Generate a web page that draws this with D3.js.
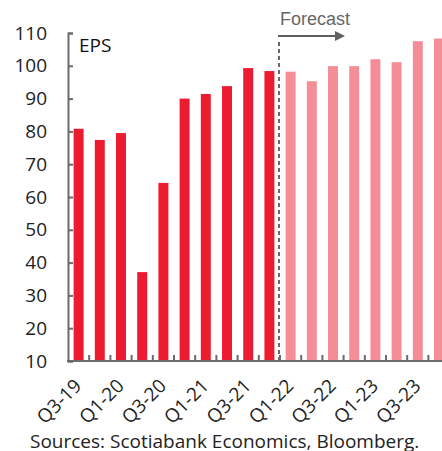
<!DOCTYPE html>
<html lang="en">
<head>
    <meta charset="utf-8">
    <title>EPS</title>
    <script type="text/javascript" src="https://cdn.jsdelivr.net/npm/d3@7"></script>
    <style type="text/css">
        body { margin: 0; background: #fff; }
    </style>
</head>
<body>
<script type="text/javascript">

var quarters = ["Q3-19","Q4-19","Q1-20","Q2-20","Q3-20","Q4-20","Q1-21","Q2-21","Q3-21","Q4-21",
                "Q1-22","Q2-22","Q3-22","Q4-22","Q1-23","Q2-23","Q3-23","Q4-23"]
var actual = [80.8, 77.4, 79.5, 37.1, 64.3, 90.0, 91.4, 93.8, 99.3, 98.4]
var forecast = [98.2, 95.3, 99.9, 99.9, 102.0, 101.1, 107.5, 108.3]
var yTicks = [10, 20, 30, 40, 50, 60, 70, 80, 90, 100, 110]

var w = 442
var h = 451
var font = "'Open Sans', sans-serif"

var svg = d3.select("body")
    .append("svg")
    .attr("width", w)
    .attr("height", h)
    .attr("font-family", font);

var x = d3.scaleBand()
    .domain(quarters)
    .range([68, 68 + 18 * 21.2])
    .paddingInner(0.53)
    .paddingOuter(0.265);

var y = d3.scaleLinear()
    .domain([10, 110])
    .range([361, 33]);

var bars = actual.map(function(v, i){ return {q: quarters[i], v: v, f: false}; })
    .concat(forecast.map(function(v, i){ return {q: quarters[actual.length + i], v: v, f: true}; }));

svg.selectAll("rect.bar")
    .data(bars)
    .enter()
    .append("rect")
    .attr("class", "bar")
    .attr("x", function(d){ return x(d.q); })
    .attr("y", function(d){ return y(d.v); })
    .attr("width", x.bandwidth())
    .attr("height", function(d){ return y(10) - y(d.v); })
    .attr("fill", function(d){ return d.f ? "#F58D97" : "#ED1B2F"; });

//y axis
var yAxis = svg.append("g")
    .attr("transform", "translate(68,0)")
    .call(d3.axisRight(y).tickValues(yTicks).tickSize(5).tickFormat(""));
yAxis.select(".domain").attr("stroke", "#6b6b6b").attr("stroke-width", 2);
yAxis.selectAll(".tick line").attr("stroke", "#6b6b6b").attr("stroke-width", 2);

svg.selectAll("text.ylab")
    .data(yTicks)
    .enter()
    .append("text")
    .attr("class", "ylab")
    .attr("x", 47)
    .attr("y", function(d){ return y(d); })
    .attr("dy", "0.35em")
    .attr("text-anchor", "end")
    .attr("font-size", 19)
    .attr("fill", "#222")
    .text(function(d){ return d; });

//x axis, ticks between bars
var bounds = quarters.slice(1).map(function(q){ return x(q) - x.step() * x.paddingInner() / 2; });
var xAxis = svg.append("g")
    .attr("transform", "translate(0," + y(10) + ")");
xAxis.append("line")
    .attr("x1", 67).attr("x2", w)
    .attr("stroke", "#6b6b6b").attr("stroke-width", 2);
xAxis.selectAll("line.tk")
    .data(bounds)
    .enter()
    .append("line")
    .attr("class", "tk")
    .attr("x1", function(d){ return d; })
    .attr("x2", function(d){ return d; })
    .attr("y1", 0).attr("y2", -6)
    .attr("stroke", "#6b6b6b").attr("stroke-width", 2);

svg.selectAll("text.xlab")
    .data(quarters.filter(function(d, i){ return i % 2 == 0; }))
    .enter()
    .append("text")
    .attr("class", "xlab")
    .attr("transform", function(d){
        return "translate(" + (x(d) + x.bandwidth() / 2 - 6) + ",377) rotate(-45)";
    })
    .attr("text-anchor", "end")
    .attr("dy", "0.75em")
    .attr("font-size", 19)
    .attr("fill", "#222")
    .text(function(d){ return d; });

//forecast divider
var xf = x("Q1-22") - x.step() * x.paddingInner() / 2 - 1;
svg.append("line")
    .attr("x1", xf).attr("x2", xf)
    .attr("y1", 42).attr("y2", y(10))
    .attr("stroke", "#6b6b6b")
    .attr("stroke-width", 2)
    .attr("stroke-dasharray", "4,3");

svg.append("defs").append("marker")
    .attr("id", "arr")
    .attr("viewBox", "0 0 10 10")
    .attr("refX", 0).attr("refY", 5)
    .attr("markerWidth", 5).attr("markerHeight", 5)
    .attr("orient", "auto")
    .append("path")
    .attr("d", "M0,0 L10,5 L0,10 z")
    .attr("fill", "#5f5f5f");

svg.append("line")
    .attr("x1", xf - 1).attr("x2", xf + 56)
    .attr("y1", 36).attr("y2", 36)
    .attr("stroke", "#5f5f5f")
    .attr("stroke-width", 2)
    .attr("marker-end", "url(#arr)");

svg.append("text")
    .attr("x", xf + 1)
    .attr("y", 25)
    .attr("font-family", "'Liberation Sans', Arial, sans-serif")
    .attr("font-size", 18)
    .attr("fill", "#666")
    .text("Forecast");

svg.append("text")
    .attr("x", 79)
    .attr("y", 52)
    .attr("font-size", 19)
    .attr("fill", "#111")
    .text("EPS");

svg.append("text")
    .attr("x", 30)
    .attr("y", 448)
    .attr("font-size", 19)
    .attr("fill", "#222")
    .text("Sources: Scotiabank Economics, Bloomberg.");

</script>
</body>
</html>
